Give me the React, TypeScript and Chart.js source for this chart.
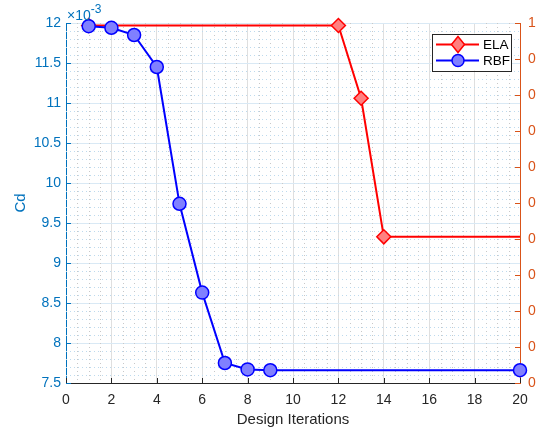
import { useEffect, useRef } from 'react';
import { Chart, registerables } from 'chart.js';

Chart.register(...registerables);

// Drag coefficient history (values in units of 1e-3)
const rbfIterations = [1, 2, 3, 4, 5, 6, 7, 8, 9, 20];
const rbfCd = [11.96, 11.94, 11.85, 11.45, 9.74, 8.63, 7.75, 7.67, 7.66, 7.66];

// ELA history on the right-hand axis
const elaIterations = [1, 12, 13, 14, 20];
const elaValues = [0.993, 0.993, 0.791, 0.406, 0.406];
const elaMarkerRadius = [7, 7, 7, 7, 0];

// Axis settings
const xRange = [0, 20];
const xStep = 2;
const xMinorStep = 0.5;
const cdRange = [7.5, 12];
const cdStep = 0.5;
const cdMinorStep = 0.1;
const rightRange = [0, 1];
const rightStep = 0.1;

const legendLabels = ['ELA', 'RBF'];

const FONT = "'Liberation Sans', Arial, Helvetica, sans-serif";
const BLUE_AXIS = '#0072BD';
const ORANGE_AXIS = '#D95319';
const DARK = '#262626';

const isMultiple = (v: number, step: number) => Math.abs(v / step - Math.round(v / step)) < 1e-6;

const minorGridPlugin = {
  id: 'minorGrid',
  beforeDatasetsDraw(chart: any) {
    const { ctx, chartArea: a, scales } = chart;
    const xs = scales.x;
    const ys = scales.y;
    ctx.save();
    ctx.lineWidth = 1;
    ctx.setLineDash([1, 3]);
    ctx.strokeStyle = '#c8c8c8';
    for (let v = xRange[0] + xMinorStep; v < xRange[1] - 1e-9; v += xMinorStep) {
      if (isMultiple(v, xStep)) continue;
      const px = Math.round(xs.getPixelForValue(v)) + 0.5;
      ctx.beginPath();
      ctx.moveTo(px, a.top);
      ctx.lineTo(px, a.bottom);
      ctx.stroke();
    }
    ctx.strokeStyle = '#bddaee';
    for (let v = cdRange[0] + cdMinorStep; v < cdRange[1] - 1e-9; v += cdMinorStep) {
      if (isMultiple(v, cdStep)) continue;
      const py = Math.round(ys.getPixelForValue(v)) + 0.5;
      ctx.beginPath();
      ctx.moveTo(a.left, py);
      ctx.lineTo(a.right, py);
      ctx.stroke();
    }
    ctx.restore();
  },
};

// Tick marks drawn on the inside of the axes
const innerTicksPlugin = {
  id: 'innerTicks',
  afterDatasetsDraw(chart: any) {
    const { ctx, chartArea: a, scales } = chart;
    const len = 5;
    ctx.save();
    ctx.lineWidth = 1;
    ctx.strokeStyle = DARK;
    scales.x.ticks.forEach((t: any) => {
      const px = Math.round(scales.x.getPixelForValue(t.value)) + 0.5;
      ctx.beginPath();
      ctx.moveTo(px, a.bottom);
      ctx.lineTo(px, a.bottom - len);
      ctx.stroke();
    });
    ctx.strokeStyle = BLUE_AXIS;
    scales.y.ticks.forEach((t: any) => {
      const py = Math.round(scales.y.getPixelForValue(t.value)) + 0.5;
      ctx.beginPath();
      ctx.moveTo(a.left, py);
      ctx.lineTo(a.left + len, py);
      ctx.stroke();
    });
    ctx.strokeStyle = ORANGE_AXIS;
    scales.y1.ticks.forEach((t: any) => {
      const py = Math.round(scales.y1.getPixelForValue(t.value)) + 0.5;
      ctx.beginPath();
      ctx.moveTo(a.right, py);
      ctx.lineTo(a.right - len, py);
      ctx.stroke();
    });
    ctx.restore();
  },
};

const exponentPlugin = {
  id: 'exponentLabel',
  afterDraw(chart: any) {
    const { ctx, chartArea: a } = chart;
    ctx.save();
    ctx.fillStyle = BLUE_AXIS;
    ctx.textBaseline = 'alphabetic';
    ctx.textAlign = 'left';
    ctx.font = `14px ${FONT}`;
    const base = '\u00d710';
    const x0 = a.left + 1;
    const y0 = a.top - 3;
    ctx.fillText(base, x0, y0);
    const w = ctx.measureText(base).width;
    ctx.font = `12px ${FONT}`;
    ctx.fillText('-3', x0 + w, y0 - 7);
    ctx.restore();
  },
};

const legendBoxPlugin = {
  id: 'legendBox',
  afterDraw(chart: any) {
    const { ctx, chartArea: a } = chart;
    const left = a.right - 88;
    const top = a.top + 10.5;
    const width = 79;
    const height = 37;
    ctx.save();
    ctx.fillStyle = '#ffffff';
    ctx.fillRect(left, top, width, height);
    ctx.strokeStyle = DARK;
    ctx.lineWidth = 1;
    ctx.strokeRect(Math.round(left) + 0.5, Math.round(top) + 0.5, width, height);

    const rows = [
      { label: legendLabels[0], line: '#FF0000', fill: '#FF8080', marker: 'diamond' },
      { label: legendLabels[1], line: '#0000FF', fill: '#8080FF', marker: 'circle' },
    ];
    rows.forEach((r, i) => {
      const cy = top + 11 + i * 16;
      const x1 = left + 4;
      const x2 = left + 47;
      const cx = (x1 + x2) / 2 + 0.5;
      ctx.strokeStyle = r.line;
      ctx.lineWidth = 2;
      ctx.beginPath();
      ctx.moveTo(x1, cy);
      ctx.lineTo(x2, cy);
      ctx.stroke();
      ctx.fillStyle = r.fill;
      ctx.lineWidth = 1.5;
      ctx.beginPath();
      if (r.marker === 'circle') {
        ctx.arc(cx, cy, 6, 0, Math.PI * 2);
      } else {
        ctx.moveTo(cx, cy - 8);
        ctx.lineTo(cx + 6.5, cy);
        ctx.lineTo(cx, cy + 8);
        ctx.lineTo(cx - 6.5, cy);
        ctx.closePath();
      }
      ctx.fill();
      ctx.stroke();
      ctx.fillStyle = '#000000';
      ctx.font = `13.5px ${FONT}`;
      ctx.textAlign = 'left';
      ctx.textBaseline = 'middle';
      ctx.fillText(r.label, left + 51, cy + 0.5);
    });
    ctx.restore();
  },
};

export default function App() {
  const canvasRef = useRef<HTMLCanvasElement | null>(null);

  useEffect(() => {
    const canvas = canvasRef.current;
    if (!canvas) return;
    Chart.defaults.font.family = FONT;

    const chart = new Chart(canvas, {
      type: 'line',
      data: {
        datasets: [
          {
            label: legendLabels[0],
            data: elaIterations.map((x, i) => ({ x, y: elaValues[i] })),
            xAxisID: 'x',
            yAxisID: 'y1',
            order: 1,
            borderColor: '#FF0000',
            borderWidth: 2,
            pointStyle: 'rectRot',
            pointRadius: elaMarkerRadius,
            pointBackgroundColor: '#FF8080',
            pointBorderColor: '#FF0000',
            pointBorderWidth: 1.5,
            tension: 0,
            clip: false,
          },
          {
            label: legendLabels[1],
            data: rbfIterations.map((x, i) => ({ x, y: rbfCd[i] })),
            xAxisID: 'x',
            yAxisID: 'y',
            order: 0,
            borderColor: '#0000FF',
            borderWidth: 2,
            pointStyle: 'circle',
            pointRadius: 6.5,
            pointBackgroundColor: '#8080FF',
            pointBorderColor: '#0000FF',
            pointBorderWidth: 1.5,
            tension: 0,
            clip: false,
          },
        ],
      },
      options: {
        responsive: false,
        animation: false,
        devicePixelRatio: 1,
        layout: { padding: { top: 23, left: 0, right: 0, bottom: 0 } },
        plugins: {
          legend: { display: false },
          tooltip: { enabled: false },
        },
        events: [],
        scales: {
          x: {
            type: 'linear',
            position: 'bottom',
            min: xRange[0],
            max: xRange[1],
            ticks: {
              stepSize: xStep,
              color: DARK,
              font: { size: 14 },
              padding: 9,
              maxRotation: 0,
            },
            grid: { color: '#dfdfdf', lineWidth: 1, drawTicks: false },
            border: { display: true, color: DARK, width: 1 },
            title: {
              display: true,
              text: 'Design Iterations',
              color: DARK,
              font: { size: 15 },
              padding: { top: 0, bottom: 1 },
            },
            afterFit: (s: any) => {
              s.height = 47;
            },
          },
          y: {
            type: 'linear',
            position: 'left',
            min: cdRange[0],
            max: cdRange[1],
            ticks: {
              stepSize: cdStep,
              color: BLUE_AXIS,
              font: { size: 14 },
              padding: 5,
              callback: (v: any) => String(Number(v)),
            },
            grid: { color: '#d9e9f5', lineWidth: 1, drawTicks: false },
            border: { display: true, color: BLUE_AXIS, width: 1 },
            title: {
              display: true,
              text: 'Cd',
              color: BLUE_AXIS,
              font: { size: 15 },
              padding: { top: 12, bottom: 0 },
            },
            afterFit: (s: any) => {
              s.width = 66;
            },
          },
          y1: {
            type: 'linear',
            position: 'right',
            min: rightRange[0],
            max: rightRange[1],
            ticks: {
              stepSize: rightStep,
              color: ORANGE_AXIS,
              font: { size: 14 },
              padding: 8,
              callback: (v: any) => (Math.abs(Number(v) - 1) < 1e-9 ? '1' : '0'),
            },
            grid: { display: false, drawTicks: false },
            border: { display: true, color: ORANGE_AXIS, width: 1 },
            afterFit: (s: any) => {
              s.width = 17;
            },
          },
        },
      },
      plugins: [minorGridPlugin, innerTicksPlugin, exponentPlugin, legendBoxPlugin],
    } as any);

    return () => chart.destroy();
  }, []);

  return (
    <div style={{ position: 'fixed', left: 0, top: 0, width: 537, height: 430, background: '#ffffff' }}>
      <canvas ref={canvasRef} width={537} height={430} style={{ display: 'block' }} />
    </div>
  );
}
